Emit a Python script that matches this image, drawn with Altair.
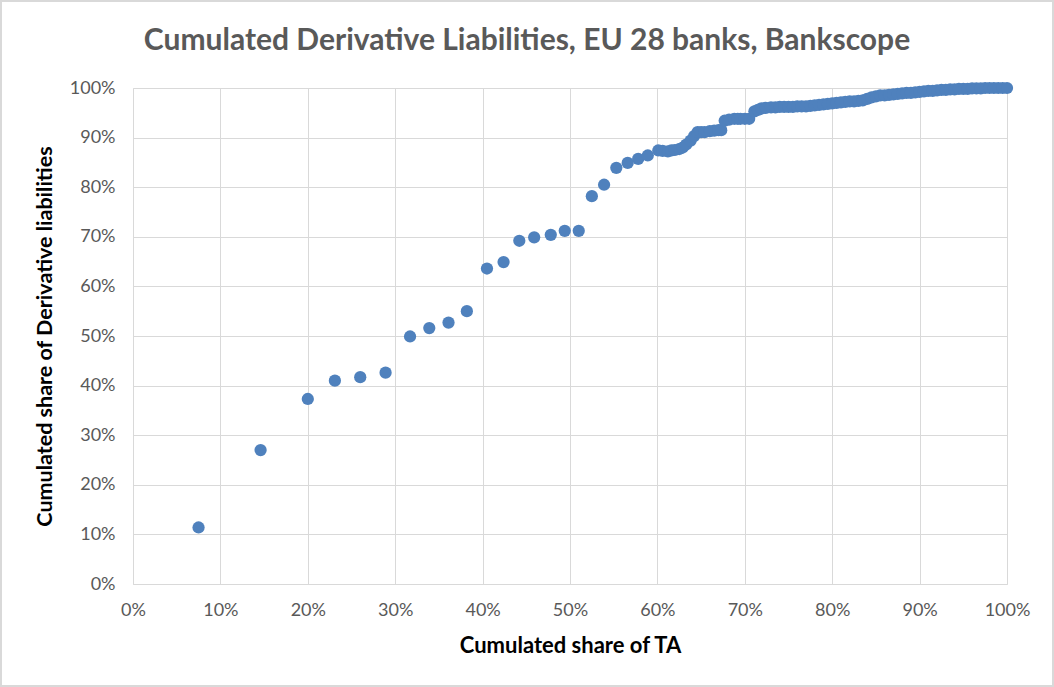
import altair as alt
import pandas as pd

# Cumulated share of total assets (x, %) and of derivative liabilities (y, %)
ta_share = [
    7.5, 14.6, 20.0, 23.1, 26.0, 28.9, 31.7, 33.9, 36.1, 38.2,
    40.5, 42.4, 44.2, 45.9, 47.8, 49.4, 51.0, 52.5, 53.9, 55.3,
    56.6, 57.8, 58.9, 60.1, 60.6, 61.2, 61.6, 62.0, 62.5, 62.9,
    63.3, 63.8, 64.2, 64.6, 65.0, 65.4, 66.0, 66.5, 67.0, 67.3,
    67.7, 68.2, 68.8, 69.2, 69.5, 70.0, 70.5, 71.1, 71.5, 71.9,
    72.4, 73.0, 73.5, 74.0, 74.5, 75.0, 75.5, 76.0, 76.5, 77.0,
    77.5, 78.0, 78.5, 79.0, 79.5, 80.0, 80.5, 81.0, 81.5, 82.0,
    82.5, 83.0, 83.5, 84.0, 84.5, 85.0, 85.5, 86.0, 86.5, 87.0,
    87.5, 88.0, 88.5, 89.0, 89.5, 90.0, 90.5, 91.0, 91.5, 92.0,
    92.5, 93.0, 93.5, 94.0, 94.5, 95.0, 95.5, 96.0, 96.5, 97.0,
    97.5, 98.0, 98.5, 99.0, 99.5, 100.0,
]
dl_share = [
    11.4, 27.0, 37.3, 41.0, 41.7, 42.6, 49.9, 51.6, 52.7, 55.0,
    63.6, 64.9, 69.2, 69.9, 70.4, 71.2, 71.2, 78.2, 80.5, 83.9,
    84.9, 85.7, 86.4, 87.4, 87.3, 87.2, 87.4, 87.5, 87.7, 88.0,
    88.6, 89.4, 90.3, 91.1, 91.1, 91.1, 91.3, 91.4, 91.5, 91.5,
    93.4, 93.6, 93.8, 93.8, 93.8, 93.8, 93.8, 95.3, 95.6, 95.9,
    96.0, 96.1, 96.1, 96.2, 96.2, 96.2, 96.2, 96.3, 96.3, 96.3,
    96.4, 96.5, 96.6, 96.7, 96.8, 96.9, 97.0, 97.1, 97.2, 97.3,
    97.3, 97.4, 97.5, 97.8, 98.1, 98.3, 98.5, 98.5, 98.6, 98.7,
    98.8, 98.9, 99.0, 99.0, 99.1, 99.2, 99.3, 99.4, 99.4, 99.5,
    99.6, 99.6, 99.7, 99.7, 99.8, 99.8, 99.8, 99.9, 99.9, 99.9,
    100.0, 100.0, 100.0, 100.0, 100.0, 100.0,
]

tick_values = [i / 10 for i in range(11)]

df = pd.DataFrame({
    "ta": [v / 100 for v in ta_share],
    "dl": [v / 100 for v in dl_share],
})

W, H = 874, 496
FONT = "Lato"
LABEL_COLOR = "#595959"
GRID = "#d9d9d9"

points = alt.Chart(df).mark_circle(size=150, color="#4f81bd", opacity=1).encode(
    x=alt.X(
        "ta:Q",
        scale=alt.Scale(domain=[0, 1], nice=False),
        axis=alt.Axis(
            values=tick_values, format=".0%", title="Cumulated share of TA",
            grid=True, gridColor=GRID, ticks=False, tickSize=0,
            domainColor=GRID, labelPadding=17, labelFlush=False,
            labelFont=FONT, labelFontSize=18, labelColor=LABEL_COLOR,
            titleFont=FONT, titleFontSize=22, titleFontWeight="bold", titleColor="black",
            titleX=W / 2, titleY=61, titleBaseline="middle", titleAlign="center",
        ),
    ),
    y=alt.Y(
        "dl:Q",
        scale=alt.Scale(domain=[0, 1], nice=False),
        axis=alt.Axis(
            values=tick_values, format=".0%", title="Cumulated share of Derivative liabilities",
            grid=True, gridColor=GRID, ticks=False, tickSize=0,
            domainColor=GRID, labelPadding=18,
            labelFont=FONT, labelFontSize=18, labelColor=LABEL_COLOR,
            titleFont=FONT, titleFontSize=21.5, titleFontWeight="bold", titleColor="black",
            titleX=-88, titleY=H / 2, titleAngle=-90, titleBaseline="middle", titleAlign="center",
        ),
    ),
)

frame = alt.Chart(pd.DataFrame({"k": [0]})).mark_rect(
    filled=False, stroke="#d9d9d9", strokeWidth=2
).encode(
    x=alt.value(-132), x2=alt.value(W + 46), y=alt.value(-87), y2=alt.value(H + 102)
)

chart = alt.layer(frame, points).properties(
    width=W,
    height=H,
    title=alt.TitleParams(
        "Cumulated Derivative Liabilities, EU 28 banks, Bankscope",
        font=FONT, fontSize=30, fontWeight="bold", color=LABEL_COLOR,
        anchor="middle", frame="group", dx=-43, offset=0, dy=80, baseline="alphabetic",
    ),
    padding={"left": 133, "top": 88, "right": 47, "bottom": 103},
    autosize=alt.AutoSizeParams(type="none"),
    background="white",
).configure_view(stroke=None)

chart.save("out.html", embed_options={"renderer": "svg", "actions": False})
